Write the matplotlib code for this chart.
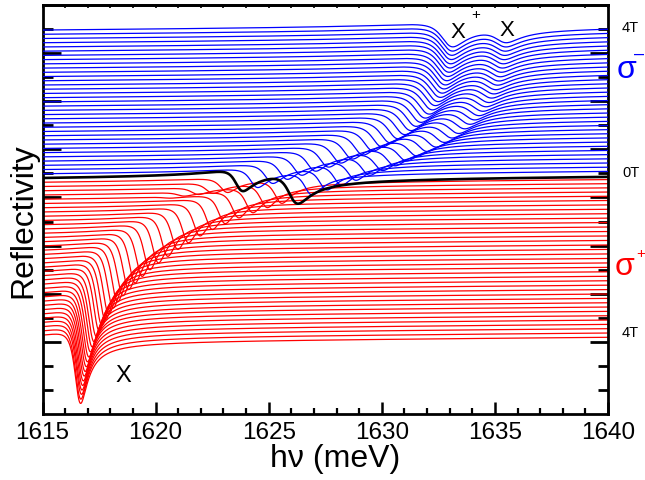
import numpy as np
import matplotlib
matplotlib.use("Agg")
import matplotlib.pyplot as plt

plt.rcParams['font.family'] = ['Liberation Sans', 'DejaVu Sans']

# ---------------- data ----------------
# zero field trace: (resonance energy meV, depth, width meV)
zero_Xp = (1623.67, 0.70, 0.45)
zero_X = (1626.05, 0.95, 0.55)

# sigma+ (red) traces, 0.108 T steps from low field to 4 T
red_X_energy = [1625.45, 1624.81, 1624.17, 1623.55, 1622.95, 1622.39, 1621.84, 1621.33,
                1620.86, 1620.42, 1620.01, 1619.63, 1619.29, 1618.98, 1618.70, 1618.44,
                1618.21, 1618.01, 1617.82, 1617.67, 1617.52, 1617.40, 1617.27, 1617.17,
                1617.09, 1617.01, 1616.94, 1616.88, 1616.83, 1616.78, 1616.74, 1616.70,
                1616.67, 1616.64, 1616.62, 1616.59, 1616.58]
red_X_depth = [0.84, 0.86, 0.91, 0.96, 1.03, 1.10, 1.18, 1.28, 1.37, 1.47, 1.56, 1.65,
               1.74, 1.83, 1.91, 1.98, 2.05, 2.12, 2.18, 2.23, 2.28, 2.32, 2.36, 2.40,
               2.43, 2.45, 2.48, 2.50, 2.52, 2.54, 2.55, 2.57, 2.58, 2.59, 2.59, 2.61, 2.61]
red_X_width = [0.44, 0.43, 0.43, 0.42, 0.41, 0.40, 0.40, 0.39, 0.39, 0.38, 0.37, 0.37,
               0.37, 0.36, 0.36, 0.36, 0.35, 0.35, 0.35, 0.35, 0.34, 0.34, 0.34, 0.34,
               0.34, 0.34, 0.34, 0.34, 0.34, 0.33, 0.33, 0.33, 0.33, 0.33, 0.33, 0.33, 0.33]
red_Xp_energy = [1623.05, 1622.41, 1621.77, 1621.15, 1620.55]
red_Xp_depth = [0.52, 0.38, 0.25, 0.14, 0.05]

# sigma- (blue) traces, 0.114 T steps from low field to 4 T
blue_X_energy = [1626.77, 1627.43, 1628.07, 1628.70, 1629.31, 1629.88, 1630.42, 1630.93,
                 1631.40, 1631.84, 1632.23, 1632.59, 1632.93, 1633.22, 1633.49, 1633.72,
                 1633.93, 1634.12, 1634.29, 1634.43, 1634.56, 1634.68, 1634.78, 1634.86,
                 1634.94, 1635.00, 1635.06, 1635.11, 1635.16, 1635.20, 1635.23, 1635.26,
                 1635.28, 1635.31, 1635.32]
blue_Xp_energy = [1624.37, 1625.03, 1625.67, 1626.30, 1626.91, 1627.48, 1628.02, 1628.53,
                  1629.00, 1629.44, 1629.83, 1630.19, 1630.53, 1630.82, 1631.09, 1631.32,
                  1631.53, 1631.72, 1631.89, 1632.03, 1632.16, 1632.28, 1632.38, 1632.46,
                  1632.54, 1632.60, 1632.66, 1632.71, 1632.76, 1632.80, 1632.83, 1632.86,
                  1632.88, 1632.91, 1632.92]
blue_X_depth = [0.82, 0.79, 0.77, 0.74, 0.71, 0.69, 0.67, 0.64, 0.62, 0.60, 0.59, 0.57,
                0.56, 0.55, 0.53, 0.52, 0.51, 0.51, 0.50, 0.49, 0.49, 0.48, 0.48, 0.48,
                0.47, 0.47, 0.47, 0.46, 0.46, 0.46, 0.46, 0.46, 0.46, 0.46, 0.46]
blue_Xp_depth = [0.68, 0.69, 0.70, 0.71, 0.72, 0.73, 0.74, 0.75, 0.76, 0.77, 0.78, 0.79,
                 0.80, 0.80, 0.81, 0.81, 0.82, 0.82, 0.83, 0.83, 0.83, 0.84, 0.84, 0.84,
                 0.84, 0.85, 0.85, 0.85, 0.85, 0.85, 0.85, 0.85, 0.85, 0.85, 0.85]
blue_width = [0.46, 0.48, 0.49, 0.51, 0.52, 0.53, 0.54, 0.55, 0.56, 0.57, 0.58, 0.59,
              0.60, 0.60, 0.61, 0.61, 0.62, 0.62, 0.63, 0.63, 0.63, 0.63, 0.64, 0.64,
              0.64, 0.64, 0.64, 0.64, 0.64, 0.64, 0.65, 0.65, 0.65, 0.65, 0.65]

x_ticks_major = [1615, 1620, 1625, 1630, 1635, 1640]

# ---------------- layout / style ----------------
zero_level = 9.81
step_blue = 0.1757
step_red = 0.1765
slope = 0.007
phase_zero = np.deg2rad(50)
phase_blue = np.deg2rad(38)
phase_red = np.deg2rad(36)

energy = np.linspace(1615, 1640, 2501)


def feature(E, E0, depth, width, phi):
    u = (E - E0) / width
    c, s = np.cos(phi), np.sin(phi)
    return -depth * (c + s * u) / (1 + u * u) / ((1 + c) / 2)


def trace(level, feats, phi):
    y = np.zeros_like(energy)
    y0 = 0.0
    for E0, d, w in feats:
        y += feature(energy, E0, d, w, phi)
        y0 += feature(np.array([1615.0]), E0, d, w, phi)[0]
    return level + y - y0 + slope * (energy - 1615)


fig = plt.figure(figsize=(6.45, 4.8), dpi=100)
ax = fig.add_axes([42.5 / 645, 66 / 480, (608 - 42.5) / 645, 409 / 480])

# red (sigma+)
for k in range(len(red_X_energy)):
    feats = [(red_X_energy[k], red_X_depth[k], red_X_width[k])]
    if k < len(red_Xp_energy):
        feats.append((red_Xp_energy[k], red_Xp_depth[k], 0.45))
    y = trace(zero_level - step_red * (k + 1), feats, phase_red)
    ax.plot(energy, y, color='#ff0000', lw=0.9, zorder=2)

# blue (sigma-)
for k in range(len(blue_X_energy)):
    feats = [(blue_Xp_energy[k], blue_Xp_depth[k], blue_width[k]),
             (blue_X_energy[k], blue_X_depth[k], blue_width[k])]
    y = trace(zero_level + step_blue * (k + 1), feats, phase_blue)
    ax.plot(energy, y, color='#0000ff', lw=0.9, zorder=3)

# zero field
y = trace(zero_level, [zero_Xp, zero_X], phase_zero)
ax.plot(energy, y, color='black', lw=1.9, zorder=4)

ax.set_xlim(1615, 1640)
ax.set_ylim(0, 17)
ax.set_xticks(x_ticks_major)
ax.set_xticks(np.arange(1615, 1641, 1), minor=True)
ax.set_yticks([3, 5, 7, 9, 11, 13, 15])
ax.set_yticks([1, 2, 4, 6, 8, 10, 12, 14, 16], minor=True)
ax.set_yticklabels([])
ax.tick_params(axis='x', which='major', direction='in', length=8.5, width=1.8,
               labelsize=17.5, pad=6)
ax.tick_params(axis='x', which='minor', direction='in', length=4.5, width=1.6)
ax.tick_params(axis='y', which='major', direction='in', length=13, width=2.0,
               left=True, right=True)
ax.tick_params(axis='y', which='minor', direction='in', length=7, width=2.0,
               left=True, right=True)
for sp in ax.spines.values():
    sp.set_linewidth(2.0)

sec = ax.secondary_xaxis('top')
sec.set_xticks(x_ticks_major)
sec.set_xticks(np.arange(1615, 1641, 1), minor=True)
sec.set_xticklabels([])
sec.tick_params(which='both', direction='in', length=2.5, width=1.2)
sec.spines['top'].set_linewidth(2.0)


def fxy(px, py):
    return px / 645, 1 - py / 480


fig.text(*fxy(23, 221), 'Reflectivity', rotation=90, ha='center', va='center', fontsize=23)
fig.text(*fxy(335, 459), 'h\u03bd (meV)', ha='center', va='center', fontsize=23)

fig.text(*fxy(630, 28), '4T', ha='center', va='center', fontsize=10.5)
fig.text(*fxy(631, 173), '0T', ha='center', va='center', fontsize=10.5)
fig.text(*fxy(630, 333), '4T', ha='center', va='center', fontsize=10.5)

fig.text(*fxy(626, 70), '\u03c3', ha='center', va='center', fontsize=23, color='#0000ff')
fig.text(*fxy(639, 54), '\u2013', ha='center', va='center', fontsize=13, color='#0000ff')
fig.text(*fxy(625, 267), '\u03c3', ha='center', va='center', fontsize=23, color='#ff0000')
fig.text(*fxy(641, 254), '+', ha='center', va='center', fontsize=11, color='#ff0000')

fig.text(*fxy(458, 32), 'X', ha='center', va='center', fontsize=16)
fig.text(*fxy(476, 15), '+', ha='center', va='center', fontsize=11)
fig.text(*fxy(507, 31), 'X', ha='center', va='center', fontsize=16)
fig.text(*fxy(123, 376), 'X', ha='center', va='center', fontsize=17)

fig.savefig('out.png', dpi=100)
